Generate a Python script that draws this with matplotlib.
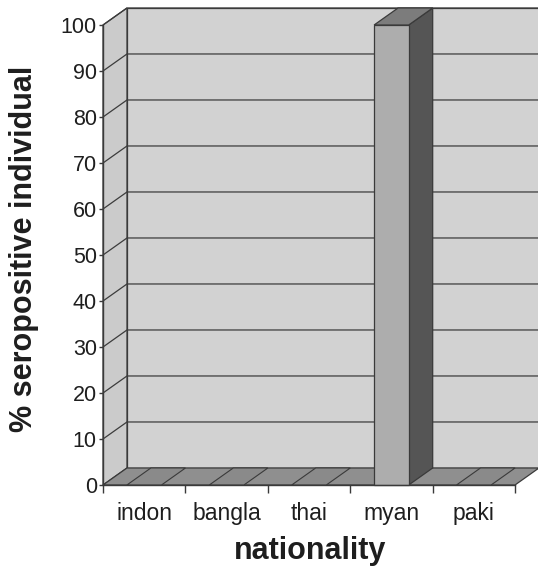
import numpy as np
import matplotlib.pyplot as plt
from matplotlib.patches import Polygon

plt.rcParams['font.family'] = ['Liberation Sans', 'DejaVu Sans']

nationality = ['indon', 'bangla', 'thai', 'myan', 'paki']
seropositive = [0, 0, 0, 100, 0]
y_ticks = [0, 10, 20, 30, 40, 50, 60, 70, 80, 90, 100]

# oblique "3d" offset of the back wall, in data units
DX, DY = 0.291, 3.7
BAR_W = 0.42
BAR_D = 1.0

WALL = '#d2d2d2'
SIDE = '#cbcbcb'
FLOOR = '#8f8f8f'
GRID = '#3c3c3c'
EDGE = '#3a3a3a'


def shift(x, y, d):
    return (x + d * DX, y + d * DY)


def poly(ax, pts, color, lw=0.9, z=1):
    p = Polygon(pts, closed=True, facecolor=color, edgecolor=EDGE,
                linewidth=lw, clip_on=False, zorder=z)
    ax.add_patch(p)


fig = plt.figure(figsize=(5.38, 5.72), dpi=100)
ax = fig.add_axes([103 / 538, 87 / 572, 412 / 538, 460 / 572])
n = len(nationality)
top = max(y_ticks)
ax.set_xlim(0, n)
ax.set_ylim(0, top)
ax.set_facecolor('none')

# walls
poly(ax, [shift(0, 0, 1), shift(n, 0, 1), shift(n, top, 1), shift(0, top, 1)], WALL, z=1)
poly(ax, [(0, 0), shift(0, 0, 1), shift(0, top, 1), (0, top)], SIDE, z=1)

# gridlines on side and back wall
for t in y_ticks[1:]:
    ax.plot([0, DX, n + DX], [t, t + DY, t + DY], color=GRID, lw=0.9,
            clip_on=False, zorder=2, solid_capstyle='butt')

# floor
poly(ax, [(0, 0), (n, 0), shift(n, 0, 1), shift(0, 0, 1)], FLOOR, z=3)

# bars
for i, v in enumerate(seropositive):
    x0 = i + 0.5 - BAR_W / 2
    x1 = x0 + BAR_W
    top_face = [(x0, v), (x1, v), shift(x1, v, BAR_D), shift(x0, v, BAR_D)]
    if v > 0:
        poly(ax, [(x1, 0), shift(x1, 0, BAR_D), shift(x1, v, BAR_D), (x1, v)], '#555555', z=4)
        poly(ax, [(x0, 0), (x1, 0), (x1, v), (x0, v)], '#adadad', z=5)
        poly(ax, top_face, '#7c7c7c', z=5)
    else:
        poly(ax, top_face, '#8a8a8a', lw=0.8, z=4)

for s in ['top', 'right']:
    ax.spines[s].set_visible(False)
for s in ['left', 'bottom']:
    ax.spines[s].set_color(EDGE)
    ax.spines[s].set_linewidth(1.0)
    ax.spines[s].set_zorder(6)

ax.set_yticks(y_ticks)
ax.tick_params(axis='y', length=3, width=1, pad=1.5, labelsize=15.5,
               colors=EDGE, labelcolor='#1e1e1e')
ax.set_xticks(np.arange(n + 1))
ax.set_xticklabels([])
ax.set_xticks(np.arange(n) + 0.5, minor=True)
ax.set_xticklabels(nationality, minor=True)
ax.tick_params(axis='x', which='major', length=6, width=1, colors=EDGE)
ax.tick_params(axis='x', which='minor', length=0, pad=12, labelsize=16.5,
               labelcolor='#1e1e1e')

fig.text(24 / 538, 1 - 249 / 572, '% seropositive individual', rotation=90,
         ha='center', va='center', fontsize=22, fontweight='bold', color='#1e1e1e')
fig.text(310 / 538, 1 - 551 / 572, 'nationality', ha='center', va='center',
         fontsize=22, fontweight='bold', color='#1e1e1e')

fig.savefig('out.png', dpi=100, facecolor='white')
